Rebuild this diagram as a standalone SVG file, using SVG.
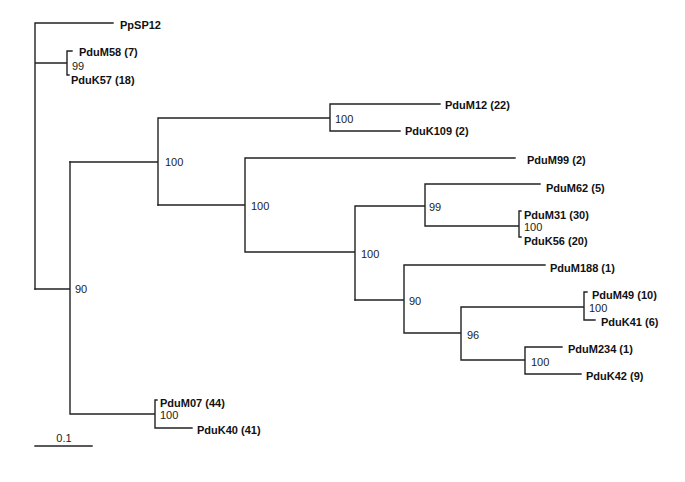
<svg xmlns="http://www.w3.org/2000/svg" width="685" height="482" viewBox="0 0 685 482">
<style>
.br{fill:none;stroke:#222;stroke-width:1.4;stroke-linecap:square}
.lf{font-family:"Liberation Sans",Arial,sans-serif;font-size:11px;font-weight:bold;fill:#111}
.bs{font-family:"Liberation Sans",Arial,sans-serif;font-size:11px;fill:#222}
</style>
<rect width="685" height="482" fill="#fff"/>
<g id="connectors">
<path class="br" d="M35,23V289M35,23H113M35,63H67M67,51V75M67,51H72M67,75H69"/>
<path class="br" d="M35,289H70M70,162V414M70,414H155M155,400V428M155,400H157M155,428H192"/>
<path class="br" d="M70,162H158M158,118V205M158,118H330M330,104V131M330,104H440M330,131H400"/>
<path class="br" d="M158,205H245M245,158V252M245,158H515M245,252H355M355,206V300M355,206H425M425,184V226M425,184H540M425,226H519M519,211V237M519,211H521M519,237H521"/>
<path class="br" d="M355,300H404M404,265V333M404,265H545M404,333H461M461,307V360M461,307H584M584,292V320M584,292H587M584,320H595M461,360H525M525,347V374M525,347H562M525,374H581"/>
<path class="br" d="M35,446H92"/>
</g>
<g id="leaf-PpSP12"><text class="lf" x="120" y="29">PpSP12</text></g>
<g id="leaf-PduM58"><text class="lf" x="79" y="56">PduM58 (7)</text></g>
<g id="leaf-PduK57"><text class="lf" x="71" y="84">PduK57 (18)</text></g>
<g id="leaf-PduM12"><text class="lf" x="445" y="109">PduM12 (22)</text></g>
<g id="leaf-PduK109"><text class="lf" x="405" y="135">PduK109 (2)</text></g>
<g id="leaf-PduM99"><text class="lf" x="527" y="164">PduM99 (2)</text></g>
<g id="leaf-PduM62"><text class="lf" x="546" y="192">PduM62 (5)</text></g>
<g id="leaf-PduM31"><text class="lf" x="524" y="219">PduM31 (30)</text></g>
<g id="leaf-PduK56"><text class="lf" x="524" y="245">PduK56 (20)</text></g>
<g id="leaf-PduM188"><text class="lf" x="550" y="272">PduM188 (1)</text></g>
<g id="leaf-PduM49"><text class="lf" x="592" y="299">PduM49 (10)</text></g>
<g id="leaf-PduK41"><text class="lf" x="601" y="326">PduK41 (6)</text></g>
<g id="leaf-PduM234"><text class="lf" x="568" y="353">PduM234 (1)</text></g>
<g id="leaf-PduK42"><text class="lf" x="586" y="380">PduK42 (9)</text></g>
<g id="leaf-PduM07"><text class="lf" x="160" y="407">PduM07 (44)</text></g>
<g id="leaf-PduK40"><text class="lf" x="197" y="434">PduK40 (41)</text></g>
<g id="bootstrap">
<text class="bs" x="72" y="70">99</text>
<text class="bs" x="165" y="166">100</text>
<text class="bs" x="335" y="123">100</text>
<text class="bs" x="251" y="210">100</text>
<text class="bs" x="361" y="258">100</text>
<text class="bs" x="429" y="211">99</text>
<text class="bs" x="524" y="231">100</text>
<text class="bs" x="409" y="305">90</text>
<text class="bs" x="467" y="339">96</text>
<text class="bs" x="589" y="312">100</text>
<text class="bs" x="531" y="366">100</text>
<text class="bs" x="75" y="293">90</text>
<text class="bs" x="160" y="419">100</text>
</g>
<g id="scale"><text class="bs" x="64" y="442" text-anchor="middle">0.1</text></g>
</svg>
